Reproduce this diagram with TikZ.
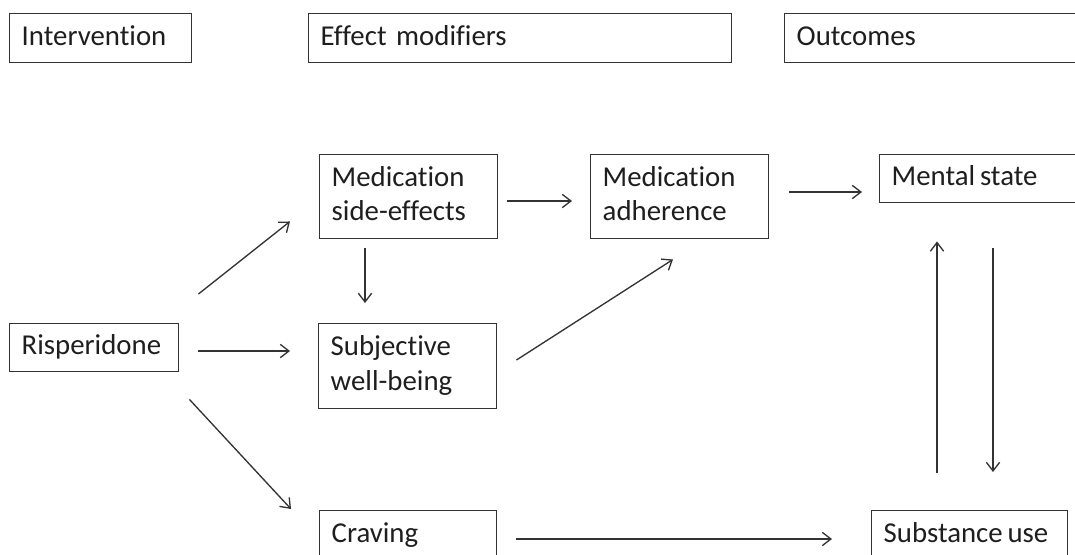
\documentclass[tikz,border=0pt]{standalone}
\usepackage{fontspec}
\setmainfont{Carlito}[Ligatures={NoCommon}]
\usetikzlibrary{arrows.meta}
\definecolor{ln}{HTML}{333333}
\definecolor{tx}{HTML}{1E1E1E}
\begin{document}
\begin{tikzpicture}[x=0.75pt,y=-0.75pt,
  box/.style n args={3}{draw=ln, line width=1.1pt, rectangle, anchor=north west,
    align=left, inner xsep=9pt, inner ysep=0pt, text=tx,
    minimum width=#1, text width=#2, minimum height=#3,
    font=\fontsize{21.6pt}{25.7pt}\selectfont,
    execute at begin node=\strut, execute at end node=\strut},
  arr/.style={draw=ln, line width=1pt, -{Straight Barb[length=6.5pt,width=10pt,line width=1pt]}}
]
\clip (0,0) rectangle (1075,554);
\fill[white] (0,0) rectangle (1075,554);
% header boxes
\node[box={136.5pt}{118.5pt}{36.75pt}] (interv) at (9,13) {Intervention};
\node[box={317.25pt}{299.25pt}{36.75pt}] (effmod) at (308,13) {Effect modifiers};
\node[box={240pt}{222pt}{36.75pt}] (outc) at (784,13) {Outcomes};
% main boxes
\node[box={126.75pt}{108.75pt}{36pt}] (risp) at (9,323) {Risperidone};
\node[box={133.5pt}{115.5pt}{63pt}] (mse) at (319,154) {Medication\\side-effects};
\node[box={133.5pt}{115.5pt}{63.75pt}] (swb) at (318,323) {Subjective\\well-being};
\node[box={132.75pt}{114.75pt}{36.75pt}] (crav) at (319,510) {Craving};
\node[box={133.5pt}{115.5pt}{63pt}] (madh) at (590,154) {Medication\\adherence};
\node[box={165pt}{147pt}{36pt}] (ment) at (879,154) {Mental\,state};
\node[box={147pt}{129pt}{36.75pt}] (subst) at (871,510) {Substance\,use};
% connectors
\draw[arr] ([shift={(19,-29)}]risp.north east) -- ([shift={(-29,-18)}]mse.south west);
\draw[arr] ([shift={(19,28)}]risp.north east) -- ([shift={(-28,28)}]swb.north west);
\draw[arr] ([shift={(10,27)}]risp.south east) -- ([shift={(-28,-1)}]crav.north west);
\draw[arr] ([shift={(9,47)}]mse.north east) -- ([shift={(-18,47)}]madh.north west);
\draw[arr] ([shift={(46,9)}]mse.south west) -- ([shift={(47,-20)}]swb.north west);
\draw[arr] ([shift={(19,37)}]swb.north east) -- ([shift={(83,20)}]madh.south west);
\draw[arr] ([shift={(20,38)}]madh.north east) -- ([shift={(-17,38)}]ment.north west);
\draw[arr] ([shift={(66,-37)}]subst.north west) -- ([shift={(58,38)}]ment.south west);
\draw[arr] ([shift={(114,45)}]ment.south west) -- ([shift={(122,-38)}]subst.north west);
\draw[arr] ([shift={(19,29)}]crav.north east) -- ([shift={(-39,29)}]subst.north west);
\end{tikzpicture}
\end{document}
